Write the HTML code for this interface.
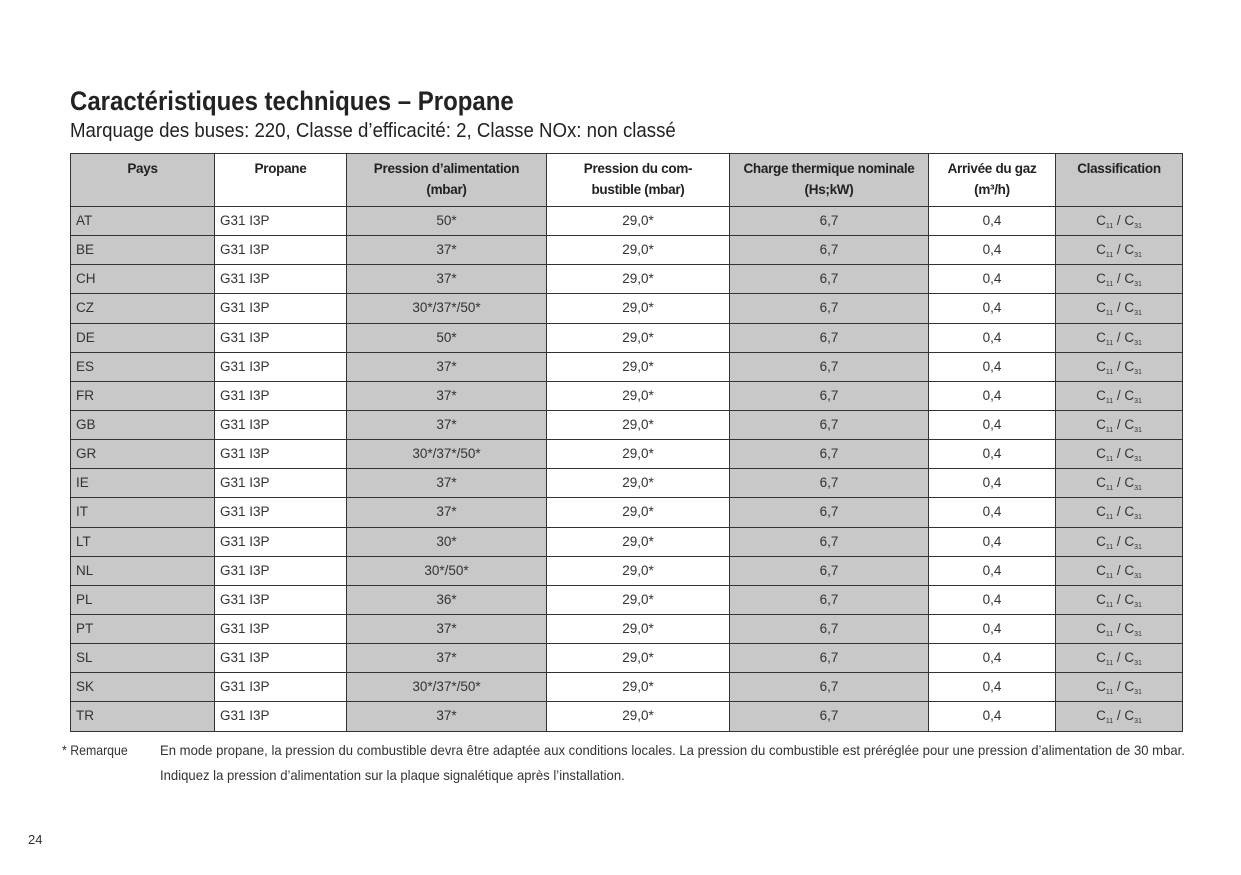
<!DOCTYPE html>
<html><head><meta charset="utf-8"><style>
body{margin:0;width:1241px;height:875px;background:#fff;position:relative;font-family:"Liberation Sans",sans-serif;color:#222;overflow:hidden}
.t1{position:absolute;left:70px;top:86px;font-size:27px;font-weight:bold;transform:scaleX(0.888);transform-origin:left top;white-space:nowrap}
.t2{position:absolute;left:70px;top:120px;font-size:20px;transform:scaleX(0.932);transform-origin:left top;white-space:nowrap}
table{position:absolute;left:70px;top:153px;width:1112px;border-collapse:collapse;table-layout:fixed}
td,th{border:1.5px solid #333;padding:0;overflow:hidden;white-space:nowrap}
th{height:48px;vertical-align:top;padding-top:4px;font-weight:bold;line-height:21px;font-size:13.5px;letter-spacing:-0.3px}
td{height:28.15px;line-height:20px;text-align:center;font-size:13.5px;color:#333;vertical-align:middle}
td:first-child,td:nth-child(2){text-align:left;padding-left:5px}
.g{background:#c8c8c8}
sub{font-size:7px;line-height:0;vertical-align:-3px}
.n{position:absolute;font-size:14px;color:#333;white-space:nowrap;transform-origin:left top}
</style></head><body>
<div class="t1">Caractéristiques techniques – Propane</div>
<div class="t2">Marquage des buses: 220, Classe d’efficacité: 2, Classe NOx: non classé</div>
<table>
<colgroup><col style="width:144px"><col style="width:132px"><col style="width:200px"><col style="width:183px"><col style="width:199px"><col style="width:127px"><col style="width:127px"></colgroup>
<tr><th class="g">Pays</th><th>Propane</th><th class="g">Pression d’alimentation<br>(mbar)</th><th>Pression du com-<br>bustible (mbar)</th><th class="g">Charge thermique nominale<br>(Hs;kW)</th><th>Arrivée du gaz<br>(m³/h)</th><th class="g">Classification</th></tr>
<tr><td class="g">AT</td><td>G31 I3P</td><td class="g">50*</td><td>29,0*</td><td class="g">6,7</td><td>0,4</td><td class="g">C<sub>11</sub> / C<sub>31</sub></td></tr>
<tr><td class="g">BE</td><td>G31 I3P</td><td class="g">37*</td><td>29,0*</td><td class="g">6,7</td><td>0,4</td><td class="g">C<sub>11</sub> / C<sub>31</sub></td></tr>
<tr><td class="g">CH</td><td>G31 I3P</td><td class="g">37*</td><td>29,0*</td><td class="g">6,7</td><td>0,4</td><td class="g">C<sub>11</sub> / C<sub>31</sub></td></tr>
<tr><td class="g">CZ</td><td>G31 I3P</td><td class="g">30*/37*/50*</td><td>29,0*</td><td class="g">6,7</td><td>0,4</td><td class="g">C<sub>11</sub> / C<sub>31</sub></td></tr>
<tr><td class="g">DE</td><td>G31 I3P</td><td class="g">50*</td><td>29,0*</td><td class="g">6,7</td><td>0,4</td><td class="g">C<sub>11</sub> / C<sub>31</sub></td></tr>
<tr><td class="g">ES</td><td>G31 I3P</td><td class="g">37*</td><td>29,0*</td><td class="g">6,7</td><td>0,4</td><td class="g">C<sub>11</sub> / C<sub>31</sub></td></tr>
<tr><td class="g">FR</td><td>G31 I3P</td><td class="g">37*</td><td>29,0*</td><td class="g">6,7</td><td>0,4</td><td class="g">C<sub>11</sub> / C<sub>31</sub></td></tr>
<tr><td class="g">GB</td><td>G31 I3P</td><td class="g">37*</td><td>29,0*</td><td class="g">6,7</td><td>0,4</td><td class="g">C<sub>11</sub> / C<sub>31</sub></td></tr>
<tr><td class="g">GR</td><td>G31 I3P</td><td class="g">30*/37*/50*</td><td>29,0*</td><td class="g">6,7</td><td>0,4</td><td class="g">C<sub>11</sub> / C<sub>31</sub></td></tr>
<tr><td class="g">IE</td><td>G31 I3P</td><td class="g">37*</td><td>29,0*</td><td class="g">6,7</td><td>0,4</td><td class="g">C<sub>11</sub> / C<sub>31</sub></td></tr>
<tr><td class="g">IT</td><td>G31 I3P</td><td class="g">37*</td><td>29,0*</td><td class="g">6,7</td><td>0,4</td><td class="g">C<sub>11</sub> / C<sub>31</sub></td></tr>
<tr><td class="g">LT</td><td>G31 I3P</td><td class="g">30*</td><td>29,0*</td><td class="g">6,7</td><td>0,4</td><td class="g">C<sub>11</sub> / C<sub>31</sub></td></tr>
<tr><td class="g">NL</td><td>G31 I3P</td><td class="g">30*/50*</td><td>29,0*</td><td class="g">6,7</td><td>0,4</td><td class="g">C<sub>11</sub> / C<sub>31</sub></td></tr>
<tr><td class="g">PL</td><td>G31 I3P</td><td class="g">36*</td><td>29,0*</td><td class="g">6,7</td><td>0,4</td><td class="g">C<sub>11</sub> / C<sub>31</sub></td></tr>
<tr><td class="g">PT</td><td>G31 I3P</td><td class="g">37*</td><td>29,0*</td><td class="g">6,7</td><td>0,4</td><td class="g">C<sub>11</sub> / C<sub>31</sub></td></tr>
<tr><td class="g">SL</td><td>G31 I3P</td><td class="g">37*</td><td>29,0*</td><td class="g">6,7</td><td>0,4</td><td class="g">C<sub>11</sub> / C<sub>31</sub></td></tr>
<tr><td class="g">SK</td><td>G31 I3P</td><td class="g">30*/37*/50*</td><td>29,0*</td><td class="g">6,7</td><td>0,4</td><td class="g">C<sub>11</sub> / C<sub>31</sub></td></tr>
<tr><td class="g">TR</td><td>G31 I3P</td><td class="g">37*</td><td>29,0*</td><td class="g">6,7</td><td>0,4</td><td class="g">C<sub>11</sub> / C<sub>31</sub></td></tr>
</table>
<div class="n" style="left:62px;top:742px;transform:scaleX(0.88)">* Remarque</div>
<div class="n" style="left:160px;top:742px;transform:scaleX(0.936)">En mode propane, la pression du combustible devra être adaptée aux conditions locales. La pression du combustible est préréglée pour une pression d’alimentation de 30 mbar.</div>
<div class="n" style="left:160px;top:767px;transform:scaleX(0.936)">Indiquez la pression d’alimentation sur la plaque signalétique après l’installation.</div>
<div class="n" style="left:28px;top:832px;font-size:13px">24</div>
</body></html>
